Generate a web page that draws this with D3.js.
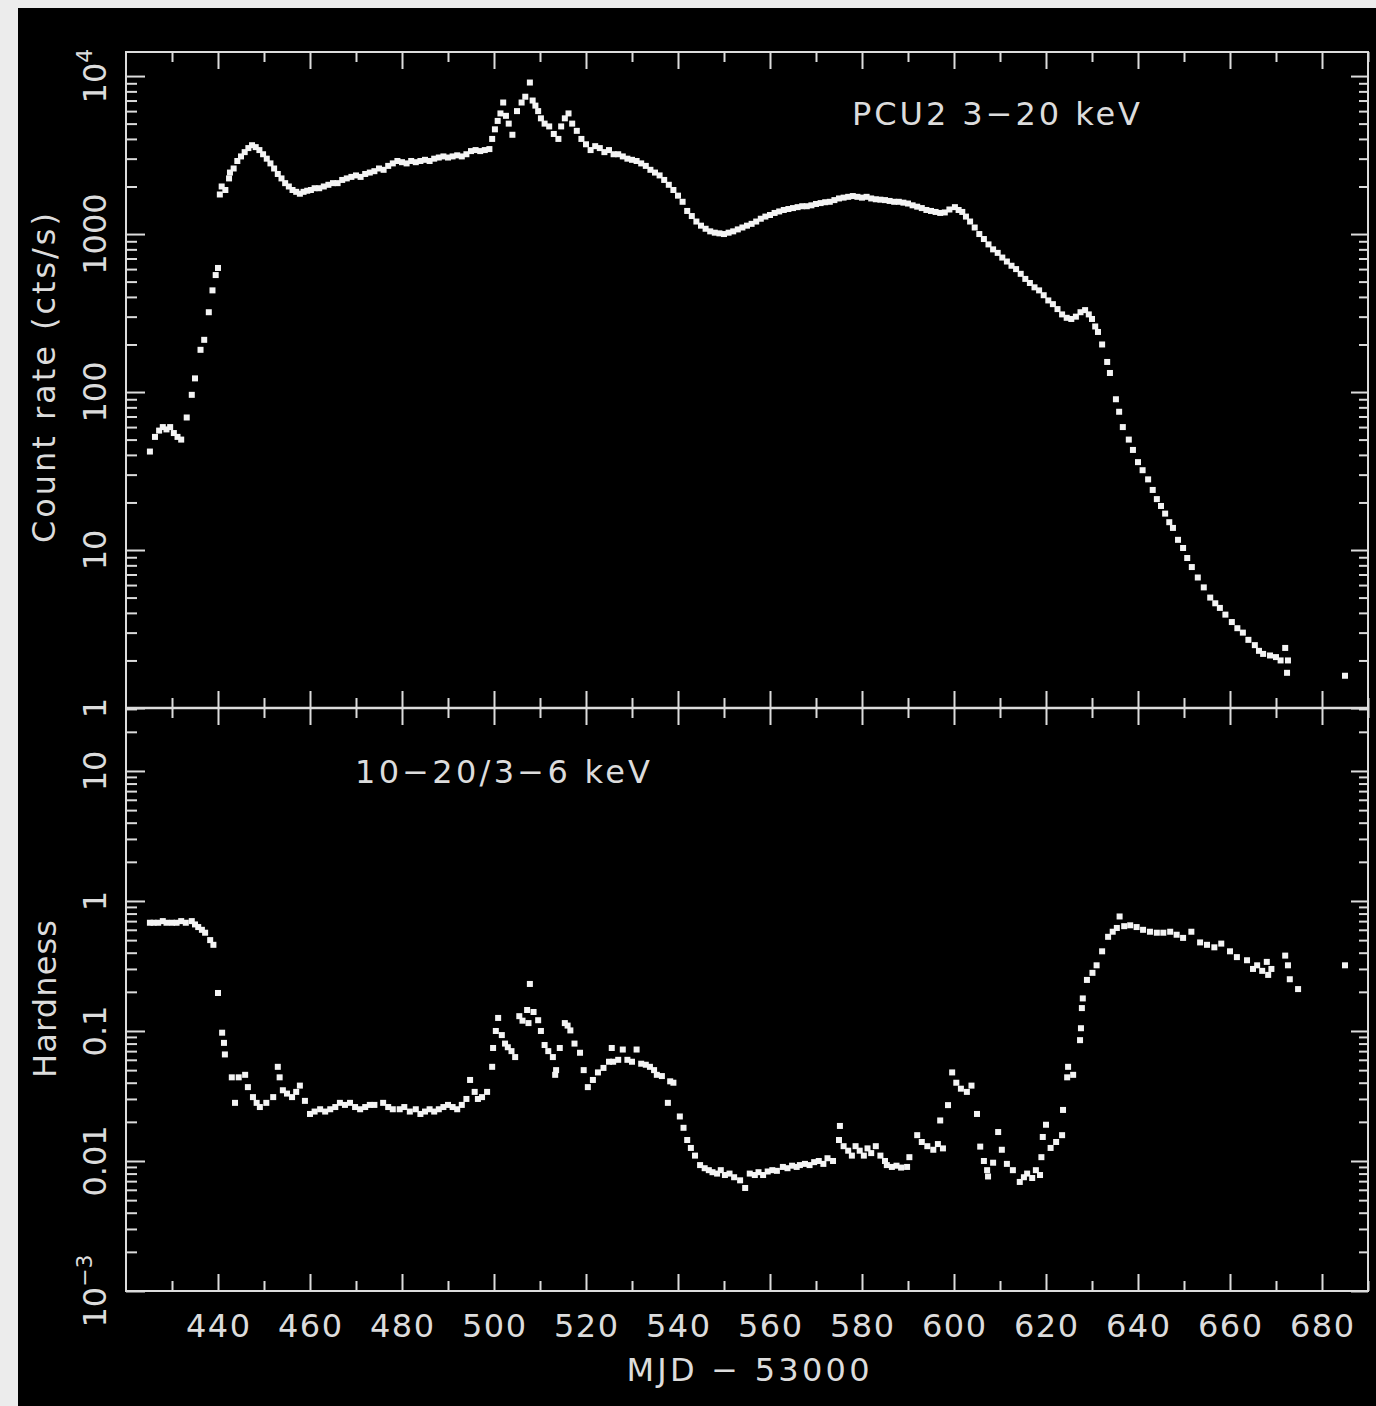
<!DOCTYPE html>
<html>
<head>
<meta charset="utf-8">
<script src="https://cdn.jsdelivr.net/npm/d3@7"></script>
<style>
  body { margin: 0; background: #ececec; }
  svg { display: block; }
  text { font-family: "DejaVu Sans", sans-serif; fill: #dcdcdc; }
</style>
</head>
<body>
<svg id="chart" width="1376" height="1406"></svg>
<script>
// light curve, PCU2 3-20 keV (MJD - 53000, cts/s)
const rateMjd = [425.2,426.3,427.2,428.0,428.8,429.6,430.4,431.2,432.0,433.2,434.3,435.0,436.2,437.0,438.0,438.8,439.5,440.0,
  440.4,440.8,441.6,442.4,442.6,443.4,444.2,445.0,445.8,446.6,447.4,448.2,449.0,449.8,450.6,451.4,452.2,453.0,453.8,454.6,
  455.4,456.2,457.0,457.8,458.6,459.4,460.2,461,462,463,464,465,466,467,468,469,470,471,472,473,474,475,476,477,478,479,480,
  481,482,483,484,485,486,487,488,489,490,491,492,493,494,495,496,497,498,499,499.6,500.2,500.8,501.4,502.0,502.6,503.2,504,
  505,506,506.8,507.8,508.4,509,509.6,510.2,511,512,513,514,514.6,515.4,516.2,517,518,519,520,521,522,523,524,525,526,527,528,
  529,530,531,532,533,534,535,536,537,538,539,540,541,542,543,544,545,546,547,548,549,550,551,552,553,554,555,556,557,558,559,
  560,561,562,563,564,565,566,567,568,569,570,571,572,573,574,575,576,577,578,579,580,581,582,583,584,585,586,587,588,589,590,
  591,592,593,594,595,596,597,598,599,600.2,601,601.8,602.6,603.5,604.5,605.5,606.5,607.5,608.5,609.5,610.5,611.5,612.5,613.5,
  614.5,615.5,616.5,617.5,618.5,619.5,620.5,621.5,622.5,623.5,624.5,625.5,626.5,627.5,628.5,629.3,630.0,630.7,631.3,632.2,633.3,
  633.9,635.2,635.9,636.7,638.0,638.9,640.0,641.0,642.2,643.2,644.1,645.0,645.9,646.8,647.6,648.7,649.8,650.7,651.7,653.0,654.3,
  655.7,656.8,657.8,659.0,660.4,661.6,662.8,664.0,665.4,666.3,667.2,668.7,670.0,671.0,672.0,672.6,672.4,685.0];
const rateCts = [42,52,57,60,58,60,55,52,50,69,96,122,185,214,320,440,550,610,
  1780,2000,1900,2250,2450,2600,2900,3100,3300,3500,3650,3550,3400,3200,3000,2800,2600,2400,2250,2100,
  2000,1900,1850,1800,1850,1880,1900,1950,1950,2000,2050,2100,2100,2200,2250,2300,2350,2300,2400,2450,2500,2600,2550,2700,2800,2900,2850,
  2800,2900,2850,2900,2950,2900,3000,3050,3100,3050,3100,3150,3100,3200,3350,3400,3350,3400,3450,4000,4600,5200,5800,6800,5600,5000,4250,
  6000,6800,7400,9100,7000,6500,6000,5400,5000,4800,4300,4000,4800,5400,5800,5000,4500,4000,3700,3400,3600,3500,3300,3400,3200,3200,3100,
  3000,2950,2900,2800,2700,2550,2450,2350,2200,2050,1900,1750,1600,1400,1300,1200,1130,1080,1040,1020,1010,1000,1020,1040,1070,1100,1130,1160,1200,1250,1290,
  1320,1360,1390,1420,1440,1460,1480,1500,1500,1520,1550,1570,1590,1600,1640,1680,1700,1720,1740,1720,1700,1720,1680,1660,1650,1640,1620,1600,1600,1580,1560,
  1520,1490,1460,1420,1400,1380,1360,1370,1430,1480,1420,1380,1290,1200,1100,1000,930,860,800,760,710,670,630,600,
  560,520,490,460,440,410,380,360,335,310,295,290,300,320,330,310,290,260,240,200,155,
  132,90,75,60,50,43,36,32,28,24,21,19,17,15,13.8,11.6,10.3,8.9,7.8,6.7,5.8,
  5.0,4.6,4.3,3.9,3.5,3.2,3.0,2.7,2.5,2.3,2.2,2.15,2.1,2.0,2.4,2.0,1.67,1.6];

// hardness ratio 10-20 / 3-6 keV
const hardMjd = [425.2,426,427,428,428.8,430,431,432,433,434.3,435,435.7,436.5,437.2,438.3,439,440,440.9,441.3,441.5,443,443.7,
  444.5,445.9,446.5,447.6,448.4,449.1,450.5,452,453,453.4,454.1,455,456.1,457,457.8,458.9,460,461,462.2,463.3,464.4,465.5,466.5,
  467.6,468.7,469.8,470.9,472,473,474,475.9,477,478,479.5,480.5,481.7,483,484,485,486,487,488,489,490,491,492,493,494,494.8,
  495.8,496.5,497.4,498.5,499.6,499.8,500.4,500.9,501.7,502.4,503,503.8,504.6,505.5,506.2,507.2,507.5,507.8,508.6,509.6,510.2,
  511,511.8,512.8,513.3,513.5,514.3,515.4,516,516.6,517.5,518.7,519.5,520.4,521.5,522.6,523.8,525,525.6,525.9,527,528,529,530,
  531,532,533,533.9,534.8,535.4,536.5,537.8,538.3,539,540.4,541.2,542,542.8,543.7,544.8,545.8,546.7,547.5,548.5,549.3,550.2,
  551.2,552.2,553.5,554.6,555.6,556.7,557.5,558.5,559.5,560.5,561.5,562.8,563.8,564.8,565.8,566.5,567.6,568.6,569.6,570.6,571.6,
  572.5,573.7,575,575.2,576,577,577.8,578.6,579.5,580.4,581.2,582,583,584,585,585.4,586.5,587.5,588.5,589.8,590.3,592,593,594.2,
  595.5,596.5,597,597.6,598.7,599.6,600.5,601.5,602.8,603.8,605,605.7,606.5,607.2,607.4,608.5,609.6,610.4,611.5,612.8,614.3,
  615.2,615.9,617,617.8,618.7,619,619.3,620,621,622.2,623.5,623.7,624.6,624.8,625.9,627.4,627.6,627.8,628,628.9,630.1,631,632.2,
  633.5,634.5,635.4,636,637,638.3,639.7,641.1,642.6,644.1,645.5,647,648.4,649.8,651.6,653.5,655,656.6,658.1,660,661.5,663.7,
  665,665.9,667,668,668.3,669,672,672.6,673,674.8,685];
const hardRatio = [0.68,0.68,0.68,0.70,0.68,0.68,0.68,0.70,0.68,0.70,0.66,0.63,0.60,0.57,0.50,0.46,0.196,0.097,0.081,0.066,0.044,0.028,
  0.044,0.046,0.037,0.031,0.028,0.026,0.028,0.031,0.053,0.044,0.035,0.033,0.031,0.034,0.038,0.029,0.023,0.024,0.025,0.024,0.025,0.026,0.028,
  0.027,0.028,0.026,0.025,0.026,0.027,0.027,0.028,0.026,0.025,0.025,0.026,0.024,0.025,0.023,0.024,0.025,0.024,0.025,0.026,0.027,0.026,0.025,0.027,0.030,0.042,
  0.034,0.030,0.031,0.034,0.053,0.074,0.100,0.126,0.093,0.080,0.075,0.070,0.063,0.130,0.120,0.145,0.115,0.23,0.140,0.121,0.100,
  0.078,0.070,0.063,0.046,0.050,0.074,0.115,0.110,0.101,0.080,0.068,0.050,0.037,0.042,0.048,0.052,0.058,0.074,0.058,0.060,0.072,0.060,0.058,
  0.072,0.056,0.055,0.053,0.050,0.046,0.045,0.028,0.041,0.040,0.022,0.018,0.0145,0.0126,0.011,0.0093,0.0088,0.0085,0.0082,0.0080,0.0085,0.0078,
  0.0080,0.0075,0.0071,0.0062,0.0080,0.0078,0.0082,0.0078,0.0083,0.0085,0.0084,0.0090,0.0088,0.0092,0.0090,0.0093,0.0095,0.0093,0.0098,0.0100,0.0095,
  0.0105,0.0100,0.0145,0.0186,0.0130,0.0120,0.0110,0.0130,0.0120,0.0110,0.0125,0.0115,0.0130,0.0110,0.0100,0.0093,0.0090,0.0092,0.0089,0.0090,0.0107,0.0158,0.0140,0.0130,
  0.0122,0.0135,0.0205,0.0125,0.0269,0.048,0.040,0.036,0.034,0.038,0.023,0.0129,0.0100,0.0085,0.0076,0.0097,0.0167,0.0122,0.0095,0.0085,0.0069,
  0.0075,0.0080,0.0074,0.0085,0.0078,0.0107,0.0153,0.0190,0.0126,0.0140,0.0158,0.0247,0.044,0.053,0.046,0.085,0.105,0.150,0.178,0.247,0.28,0.32,0.41,
  0.53,0.58,0.62,0.76,0.64,0.65,0.63,0.60,0.58,0.57,0.57,0.58,0.55,0.52,0.58,0.48,0.46,0.44,0.47,0.41,0.37,0.35,
  0.30,0.32,0.29,0.34,0.27,0.30,0.38,0.32,0.25,0.21,0.32];

const xMajor = [440,460,480,500,520,540,560,580,600,620,640,660,680];
const xMinor = [430,450,470,490,510,530,550,570,590,610,630,650,670,690];
const rateTicks = [1,10,100,1000,10000];
const rateLabels = ["1","10","100","1000","10|4"];
const hardTicks = [0.001,0.01,0.1,1,10];
const hardLabels = ["10|\u22123","0.01","0.1","1","10"];

const svg = d3.select("#chart");
const left = 126, right = 1368, top1 = 52, mid = 708, bot = 1291;
const ink = "#dcdcdc";

svg.append("rect").attr("x", 18).attr("y", 8).attr("width", 1376 - 18).attr("height", 1406 - 8).attr("fill", "#000");

const x = d3.scaleLinear().domain([420, 690]).range([left, right]);
const yRate = d3.scaleLog().domain([1, 14200]).range([mid, top1]);
const yHard = d3.scaleLog().domain([0.001, 30.5]).range([bot, mid]);

function logMinors(scale) {
  const [a, b] = scale.domain();
  const out = [];
  for (let e = Math.floor(Math.log10(a)); e <= Math.ceil(Math.log10(b)); e++) {
    for (let m = 2; m <= 9; m++) {
      const v = m * Math.pow(10, e);
      if (v > a && v < b) out.push(v);
    }
  }
  return out;
}

function tickAxis(axisFn, scale, values, size, tx, ty) {
  svg.append("g")
    .attr("transform", `translate(${tx},${ty})`)
    .call(axisFn(scale).tickValues(values).tickSize(size).tickFormat(""))
    .call(g => g.select(".domain").remove())
    .call(g => g.selectAll("line").attr("stroke", ink).attr("stroke-width", 2));
}

const majorLen = 17, minorLen = 10;
// x ticks on all horizontal edges, pointing inwards
[[d3.axisBottom, top1], [d3.axisTop, mid], [d3.axisBottom, mid], [d3.axisTop, bot]].forEach(([fn, ty]) => {
  tickAxis(fn, x, xMajor, majorLen, 0, ty);
  tickAxis(fn, x, xMinor, minorLen, 0, ty);
});
// y ticks left and right
[[yRate, rateTicks], [yHard, hardTicks]].forEach(([sc, major]) => {
  tickAxis(d3.axisRight, sc, major, 19, left, 0);
  tickAxis(d3.axisRight, sc, logMinors(sc), 11, left, 0);
  tickAxis(d3.axisLeft, sc, major, 17, right, 0);
  tickAxis(d3.axisLeft, sc, logMinors(sc), 9, right, 0);
});

// frames
svg.append("rect").attr("x", left).attr("y", top1).attr("width", right - left).attr("height", bot - top1)
  .attr("fill", "none").attr("stroke", ink).attr("stroke-width", 2);
svg.append("line").attr("x1", left).attr("x2", right).attr("y1", mid).attr("y2", mid)
  .attr("stroke", ink).attr("stroke-width", 2.5);

// data points
const ptSize = 6;
svg.append("g").selectAll("rect")
  .data(d3.zip(rateMjd, rateCts))
  .join("rect")
  .attr("x", d => x(d[0]) - ptSize / 2)
  .attr("y", d => yRate(d[1]) - ptSize / 2)
  .attr("width", ptSize).attr("height", ptSize)
  .attr("fill", "#f4f4f4");
svg.append("g").selectAll("rect")
  .data(d3.zip(hardMjd, hardRatio))
  .join("rect")
  .attr("x", d => x(d[0]) - ptSize / 2)
  .attr("y", d => yHard(d[1]) - ptSize / 2)
  .attr("width", ptSize).attr("height", ptSize)
  .attr("fill", "#f4f4f4");

// x tick labels
svg.append("g").selectAll("text")
  .data(xMajor)
  .join("text")
  .attr("x", d => x(d)).attr("y", 1337)
  .attr("text-anchor", "middle")
  .attr("font-size", 32)
  .attr("textLength", 64).attr("lengthAdjust", "spacing")
  .text(d => d);

// rotated y tick labels (superscript after "|")
function yLabels(scale, values, labels) {
  values.forEach((v, i) => {
    const t = svg.append("text")
      .attr("transform", `translate(106,${scale(v)}) rotate(-90)`)
      .attr("text-anchor", "middle")
      .attr("font-size", 32);
    const parts = labels[i].split("|");
    t.append("tspan").text(parts[0]);
    if (parts[1]) t.append("tspan").attr("dy", -14).attr("font-size", 22).text(parts[1]);
  });
}
yLabels(yRate, rateTicks, rateLabels);
yLabels(yHard, hardTicks, hardLabels);

// titles
function title(txt, len) {
  return svg.append("text").attr("font-size", 32)
    .attr("textLength", len).attr("lengthAdjust", "spacing").text(txt);
}
title("Count rate (cts/s)", 330).attr("transform", "translate(55,378) rotate(-90)").attr("text-anchor", "middle");
title("Hardness", 158).attr("transform", "translate(56,999) rotate(-90)").attr("text-anchor", "middle");
title("MJD \u2212 53000", 243).attr("x", 748).attr("y", 1381).attr("text-anchor", "middle");
title("PCU2 3\u221220 keV", 288).attr("x", 852).attr("y", 125);
title("10\u221220/3\u22126 keV", 295).attr("x", 355).attr("y", 783);
</script>
</body>
</html>
